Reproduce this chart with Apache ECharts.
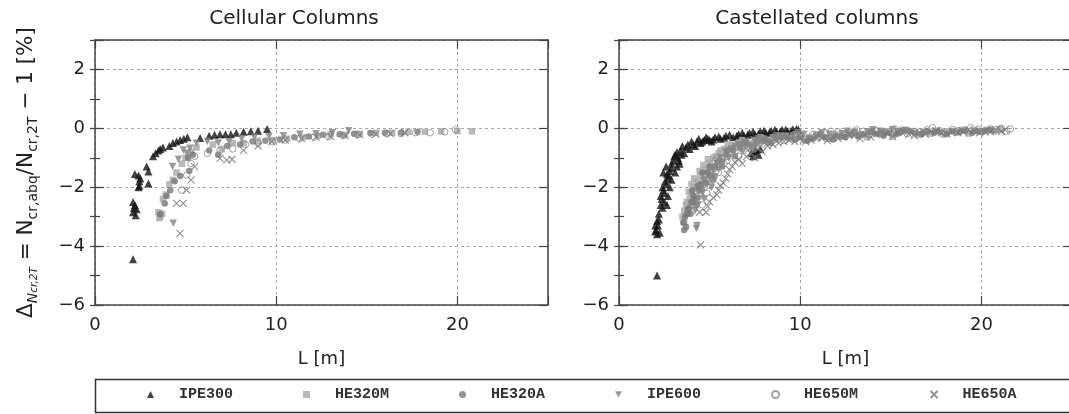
<!DOCTYPE html>
<html><head><meta charset="utf-8">
<script src="https://cdn.jsdelivr.net/npm/echarts@6/dist/echarts.min.js"></script>
<style>html,body{margin:0;padding:0;background:#fff}#c{width:1069px;height:414px}</style>
</head><body><div id="c"></div>
<script>
// ---------- DATA ----------
const seriesNames = ['IPE300', 'HE320M', 'HE320A', 'IPE600', 'HE650M', 'HE650A'];
const panelTitles = ['Cellular Columns', 'Castellated columns'];
const xAxisName = 'L [m]';
const xTicks = [0, 10, 20];
const yTicks = [-6, -4, -2, 0, 2];

// Cellular columns  [L (m), deviation (%)]
const cellIPE300 = [[2.1,-4.45],[2.1,-2.5],[2.15,-2.7],[2.1,-2.85],[2.2,-2.6],[2.25,-2.95],[2.3,-2.75],[2.4,-1.6],[2.45,-1.8],[2.4,-2.0],[2.5,-1.7],[2.45,-1.95],[2.2,-1.55],[2.85,-1.3],[2.95,-1.47],[2.95,-1.87],[3.2,-0.95],[3.35,-0.85],[3.5,-0.75],[3.6,-0.7],[3.75,-0.65],[4.1,-0.6],[4.3,-0.5],[4.5,-0.45],[4.7,-0.4],[4.9,-0.35],[5.1,-0.3],[5.8,-0.33],[6.3,-0.25],[6.6,-0.22],[6.9,-0.2],[7.2,-0.2],[7.5,-0.2],[7.8,-0.15],[8.2,-0.12],[8.6,-0.1],[9.0,-0.08],[9.5,-0.02]];
const cellHE320M = [[3.5,-2.85],[3.6,-3.0],[3.55,-3.05],[3.7,-2.9],[3.75,-2.4],[3.9,-2.25],[4.1,-1.9],[4.3,-1.75],[4.5,-1.5],[4.8,-1.2],[5.0,-1.0],[5.3,-0.8],[5.6,-0.65],[6.5,-0.55],[7.0,-0.7],[7.6,-0.5],[8.2,-0.5],[9.0,-0.42],[9.8,-0.4],[10.6,-0.35],[11.5,-0.3],[12.3,-0.25],[13.0,-0.2],[13.8,-0.22],[14.6,-0.18],[15.5,-0.15],[16.4,-0.15],[17.3,-0.12],[18.2,-0.12],[19.1,-0.1],[20.0,-0.1],[20.8,-0.1]];
const cellHE320A = [[3.6,-2.92],[3.85,-2.55],[3.95,-2.3],[4.15,-2.1],[4.4,-1.8],[4.7,-1.62],[5.2,-1.45],[5.15,-1.0],[5.4,-0.9],[6.3,-0.75],[6.8,-0.9],[7.3,-0.6],[8.0,-0.55],[8.7,-0.45],[9.4,-0.42],[10.2,-0.38],[11.0,-0.3],[11.8,-0.28],[12.6,-0.22],[13.5,-0.2],[14.3,-0.18],[15.2,-0.16],[16.0,-0.15],[16.9,-0.14],[17.8,-0.12]];
const cellIPE600 = [[4.32,-3.22],[4.28,-1.3],[4.6,-1.05],[4.87,-0.74],[5.06,-0.85],[5.24,-0.68],[5.6,-0.51],[6.2,-0.45],[6.8,-0.5],[7.4,-0.45],[8.1,-0.35],[8.8,-0.3],[9.6,-0.28],[10.4,-0.25],[11.3,-0.2],[12.2,-0.18],[13.1,-0.15],[14.0,-0.08]];
const cellHE650M = [[4.78,-2.1],[5.06,-1.59],[5.3,-1.2],[5.5,-0.95],[6.2,-0.85],[6.9,-0.75],[7.6,-0.7],[8.3,-0.55],[9.0,-0.5],[9.8,-0.45],[10.5,-0.4],[11.3,-0.35],[12.1,-0.3],[12.9,-0.28],[13.7,-0.25],[14.5,-0.22],[15.3,-0.2],[16.1,-0.18],[16.9,-0.18],[17.7,-0.15],[18.5,-0.15],[19.3,-0.12],[19.9,-0.05]];
const cellHE650A = [[4.69,-3.57],[4.5,-2.55],[4.87,-2.55],[5.06,-2.1],[5.3,-1.75],[5.5,-1.3],[6.9,-1.02],[7.27,-1.08],[7.56,-1.05],[8.2,-0.75],[9.0,-0.6],[9.75,-0.45],[10.5,-0.4],[11.4,-0.35],[12.2,-0.3],[13.0,-0.28],[13.8,-0.25],[14.6,-0.22],[15.5,-0.2],[16.3,-0.18],[17.1,-0.15]];

// Castellated columns  [L (m), deviation (%)]
const castIPE300 = [[2.1,-5.0],[2.0,-3.5],[2.1,-3.6],[2.15,-3.3],[2.2,-3.1],[2.05,-3.45],[2.25,-3.55],[2.0,-3.3],[2.1,-3.15],[2.2,-2.9],[2.3,-2.6],[2.4,-2.7],[2.35,-2.4],[2.3,-2.3],[2.5,-2.2],[2.4,-2.0],[2.45,-2.1],[2.6,-1.9],[2.55,-1.8],[2.7,-1.7],[2.5,-2.5],[2.65,-2.6],[2.7,-2.3],[2.8,-2.0],[2.9,-1.75],[2.45,-1.5],[2.65,-1.55],[2.6,-1.3],[2.75,-1.6],[2.8,-1.45],[2.9,-1.35],[2.9,-1.2],[3.1,-1.5],[3.2,-1.3],[3.35,-1.2],[3.0,-1.1],[3.05,-0.95],[3.1,-0.9],[3.2,-0.8],[3.25,-1.0],[3.3,-1.1],[3.4,-0.75],[3.45,-0.9],[3.5,-0.6],[3.6,-0.85],[3.7,-0.65],[3.8,-0.55],[3.9,-0.7],[4.0,-0.45],[4.1,-0.55],[4.2,-0.6],[4.3,-0.45],[4.4,-0.35],[4.5,-0.5],[4.6,-0.45],[4.7,-0.4],[4.8,-0.3],[4.9,-0.35],[5.0,-0.4],[5.1,-0.45],[5.2,-0.38],[5.3,-0.3],[5.5,-0.28],[5.6,-0.35],[5.8,-0.32],[5.9,-0.25],[6.1,-0.22],[6.3,-0.3],[6.5,-0.25],[6.6,-0.2],[6.8,-0.15],[6.9,-0.25],[7.1,-0.22],[7.2,-0.15],[7.4,-0.12],[7.5,-0.2],[7.7,-0.18],[7.8,-0.1],[8.0,-0.08],[8.1,-0.15],[8.3,-0.14],[8.4,-0.08],[8.6,-0.05],[8.7,-0.12],[8.9,-0.1],[9.0,-0.05],[9.2,-0.04],[9.3,-0.1],[9.5,-0.08],[9.6,-0.03],[9.8,-0.02],[9.9,-0.05],[7.3,-0.85],[7.6,-0.8],[7.8,-0.7],[7.4,-0.95],[7.7,-0.9],[7.5,-0.75]];
const castHE320M = [[3.5,-3.0],[3.6,-2.8],[3.6,-3.2],[3.7,-2.6],[3.75,-2.5],[3.8,-2.9],[3.85,-2.15],[3.9,-2.4],[4.0,-2.2],[4.0,-1.9],[4.1,-2.5],[4.15,-1.7],[4.2,-2.0],[4.3,-2.3],[4.35,-1.8],[4.45,-1.45],[4.5,-1.6],[4.6,-1.9],[4.65,-1.25],[4.8,-1.4],[4.9,-1.05],[5.0,-1.2],[5.1,-1.35],[5.2,-1.0],[5.35,-0.95],[5.5,-0.85],[5.6,-0.75],[5.8,-0.7],[6.0,-0.55],[6.2,-0.6],[6.4,-0.65],[6.6,-0.5],[6.8,-0.4],[7.0,-0.45],[7.3,-0.5],[7.5,-0.4],[7.8,-0.3],[8.0,-0.35],[8.3,-0.4],[8.6,-0.3],[8.9,-0.25],[9.2,-0.25],[9.5,-0.35],[9.8,-0.2],[10.2,-0.4],[10.5,-0.3],[10.9,-0.2],[11.2,-0.25],[11.6,-0.35],[11.9,-0.2],[12.3,-0.28],[12.6,-0.15],[13.0,-0.1],[13.3,-0.2],[13.7,-0.3],[14.0,-0.12],[14.4,-0.2],[14.7,-0.1],[15.1,-0.28],[15.4,-0.15],[15.8,-0.05],[16.1,-0.1],[16.5,-0.22],[16.8,-0.12],[17.2,-0.18],[17.5,-0.08],[17.9,-0.2],[18.2,-0.1],[18.6,-0.15],[18.9,-0.05],[19.3,-0.18],[19.6,-0.08],[20.0,-0.12],[20.3,-0.05],[20.7,-0.1],[21.0,-0.02]];
const castHE320A = [[3.55,-3.2],[3.6,-3.45],[3.65,-3.0],[3.7,-3.35],[3.75,-2.9],[3.8,-2.75],[3.9,-2.7],[3.95,-2.9],[4.0,-2.5],[4.05,-2.1],[4.1,-2.3],[4.2,-2.4],[4.25,-2.6],[4.35,-1.95],[4.4,-2.1],[4.5,-1.9],[4.55,-2.05],[4.6,-1.5],[4.7,-1.7],[4.8,-1.85],[4.9,-1.5],[5.0,-1.3],[5.1,-1.6],[5.2,-1.75],[5.3,-1.3],[5.45,-1.15],[5.6,-1.1],[5.7,-1.3],[5.9,-0.9],[6.0,-0.75],[6.3,-0.75],[6.4,-0.95],[6.7,-0.65],[6.9,-0.5],[7.1,-0.55],[7.4,-0.65],[7.6,-0.5],[7.9,-0.45],[8.1,-0.4],[8.4,-0.5],[8.7,-0.35],[9.0,-0.3],[9.3,-0.3],[9.7,-0.38],[10.0,-0.3],[10.4,-0.42],[10.7,-0.35],[11.1,-0.2],[11.4,-0.3],[11.8,-0.38],[12.1,-0.25],[12.5,-0.3],[12.8,-0.22],[13.2,-0.28],[13.5,-0.2],[13.9,-0.12],[14.2,-0.18],[14.6,-0.25],[14.9,-0.15],[15.3,-0.2],[15.6,-0.12],[16.0,-0.08],[16.3,-0.15],[16.7,-0.2],[17.0,-0.1],[17.4,-0.15],[17.7,-0.12],[18.1,-0.18],[18.4,-0.1],[18.8,-0.12],[19.1,-0.08],[19.5,-0.15],[19.8,-0.1],[20.2,-0.08],[20.5,-0.05]];
const castIPE600 = [[4.27,-3.4],[4.3,-3.3],[4.2,-2.8],[4.35,-2.6],[4.4,-2.4],[4.5,-2.0],[4.6,-2.2],[4.7,-2.4],[4.8,-1.9],[4.9,-1.6],[5.0,-1.7],[5.1,-2.0],[5.2,-1.45],[5.3,-1.65],[5.4,-1.2],[5.5,-1.4],[5.6,-1.0],[5.75,-1.15],[5.9,-0.8],[6.05,-1.0],[6.2,-0.7],[6.4,-0.6],[6.6,-0.55],[6.8,-0.8],[7.0,-0.5],[7.25,-0.6],[7.5,-0.42],[7.7,-0.35],[8.0,-0.4],[8.2,-0.5],[8.5,-0.32],[8.7,-0.25],[9.0,-0.3],[9.3,-0.35],[9.6,-0.25],[9.9,-0.15],[10.2,-0.2],[10.5,-0.35],[10.9,-0.28],[11.2,-0.15],[11.6,-0.2],[11.9,-0.3],[12.3,-0.18],[12.6,-0.1],[13.0,-0.15],[13.3,-0.25],[13.7,-0.12],[14.0,-0.05],[14.4,-0.1],[14.7,-0.2],[15.1,-0.05],[15.4,-0.12],[15.8,-0.08]];
const castHE650M = [[4.5,-2.3],[4.6,-2.6],[4.7,-2.0],[4.85,-2.2],[4.9,-1.8],[5.05,-1.95],[5.1,-1.4],[5.25,-1.65],[5.3,-1.1],[5.45,-1.3],[5.5,-1.5],[5.65,-1.05],[5.8,-1.2],[5.95,-1.1],[6.0,-0.95],[6.2,-0.85],[6.4,-0.8],[6.6,-0.95],[6.8,-0.7],[7.0,-0.55],[7.2,-0.6],[7.4,-0.7],[7.7,-0.5],[7.9,-0.55],[8.2,-0.45],[8.5,-0.3],[8.8,-0.38],[9.1,-0.42],[9.4,-0.3],[9.7,-0.2],[10.0,-0.25],[10.3,-0.38],[10.7,-0.2],[11.0,-0.3],[11.4,-0.15],[11.7,-0.1],[12.1,-0.12],[12.4,-0.25],[12.8,-0.18],[13.1,-0.05],[13.5,-0.1],[13.8,-0.2],[14.2,-0.08],[14.5,-0.15],[14.9,-0.12],[15.2,-0.02],[15.6,-0.06],[15.9,-0.18],[16.3,-0.1],[16.6,-0.12],[17.0,-0.05],[17.3,0.02],[17.7,-0.08],[18.0,-0.15],[18.4,-0.04],[18.7,-0.08],[19.1,-0.06],[19.4,0.02],[19.8,-0.03],[20.1,-0.1],[20.5,-0.02],[20.8,-0.05],[21.1,0.0],[21.4,-0.1],[21.6,-0.02]];
const castHE650A = [[4.5,-3.96],[4.45,-2.85],[4.8,-2.85],[4.9,-2.65],[5.0,-2.5],[5.2,-2.35],[5.4,-2.25],[5.5,-2.1],[5.6,-1.95],[5.75,-1.85],[5.9,-1.7],[6.0,-1.55],[6.1,-1.4],[6.25,-1.3],[6.4,-1.15],[6.6,-1.05],[6.8,-1.2],[7.03,-0.96],[7.1,-0.75],[7.3,-0.85],[7.5,-1.0],[7.7,-0.7],[7.9,-0.8],[8.2,-0.6],[8.5,-0.55],[8.8,-0.5],[9.1,-0.45],[9.4,-0.4],[9.7,-0.45],[10.0,-0.35],[10.3,-0.45],[10.6,-0.4],[10.9,-0.3],[11.2,-0.35],[11.5,-0.42],[11.8,-0.3],[12.1,-0.35],[12.4,-0.28],[12.7,-0.2],[13.0,-0.25],[13.3,-0.35],[13.6,-0.22],[13.9,-0.3],[14.2,-0.2],[14.5,-0.12],[14.8,-0.18],[15.1,-0.28],[15.4,-0.15],[15.7,-0.1],[16.0,-0.2],[16.3,-0.25],[16.6,-0.15],[16.9,-0.2],[17.2,-0.12],[17.5,-0.08],[17.8,-0.15],[18.1,-0.2],[18.4,-0.1],[18.7,-0.15],[19.0,-0.12],[19.3,-0.05],[19.6,-0.08],[19.9,-0.15],[20.2,-0.1],[20.5,-0.12],[20.8,-0.06],[21.1,-0.1],[21.3,-0.05]];

const panelData = [
  [cellIPE300, cellHE320M, cellHE320A, cellIPE600, cellHE650M, cellHE650A],
  [castIPE300, castHE320M, castHE320A, castIPE600, castHE650M, castHE650A]
];

// ---------- STYLE ----------
const FONT = 'DejaVu Sans';
const TXT = '#222';
const AX = '#444';
const markerStyles = [
  { symbol: 'triangle', symbolSize: 8, itemStyle: { color: '#111' } },
  { symbol: 'rect', symbolSize: 6.5, itemStyle: { color: '#a8a8a8' } },
  { symbol: 'circle', symbolSize: 6.5, itemStyle: { color: '#777' } },
  { symbol: 'path://M0,0L10,0L5,9Z', symbolSize: 7.5, itemStyle: { color: '#828282' } },
  { symbol: 'circle', symbolSize: 6.5, itemStyle: { color: 'rgba(255,255,255,0)', borderColor: '#8a8a8a', borderWidth: 1 } },
  { symbol: 'path://M0,0L10,10M10,0L0,10', symbolSize: 7, itemStyle: { color: 'none', borderColor: '#777', borderWidth: 1.1 } }
];

const gridLefts = [95, 619];
const fmtX = v => xTicks.includes(v) ? String(v) : '';
const fmtY = v => yTicks.includes(v) ? String(v).replace('-', '\u2212') : '';
const axLine = { show: true, onZero: false, lineStyle: { color: AX, width: 1.5 } };

const grid = [], xAxis = [], yAxis = [], series = [], title = [];
const titleCenters = [294, 817];
gridLefts.forEach((L, p) => {
  grid.push({ left: L, top: 40, width: 453, height: 265, outerBoundsMode: 'none', containLabel: false });
  title.push({ text: panelTitles[p], left: titleCenters[p], top: 9, textAlign: 'center', padding: 0,
    textStyle: { fontFamily: FONT, fontSize: 20, fontWeight: 'normal', color: TXT } });
  xAxis.push({ gridIndex: p, type: 'value', min: 0, max: 25, interval: 10, position: 'bottom',
    axisLine: axLine, axisTick: { inside: true, length: 9, lineStyle: { color: AX, width: 1.2 } },
    axisLabel: { formatter: fmtX, margin: 11, fontFamily: FONT, fontSize: 18, color: TXT },
    splitLine: { show: true, lineStyle: { color: '#a8a8a8', width: 1, type: [3, 3] } },
    name: xAxisName, nameLocation: 'middle', nameGap: 45,
    nameTextStyle: { fontFamily: FONT, fontSize: 18, color: TXT } });
  xAxis.push({ gridIndex: p, type: 'value', min: 0, max: 25, interval: 10, position: 'top',
    axisLine: axLine, axisTick: { inside: true, length: 9, lineStyle: { color: AX, width: 1.2 } },
    axisLabel: { show: false }, splitLine: { show: false } });
  const yMain = { gridIndex: p, type: 'value', min: -6, max: 3, interval: 2, position: 'left',
    axisLine: axLine, axisTick: { inside: true, length: 9, lineStyle: { color: AX, width: 1.2 } },
    axisLabel: { formatter: fmtY, margin: 10, fontFamily: FONT, fontSize: 18, color: TXT },
    splitLine: { show: true, lineStyle: { color: '#a8a8a8', width: 1, type: [3, 3] } } };
  if (p === 0) {
    Object.assign(yMain, {
      name: '{d|\u0394}{s|N}{ss|cr,2T}{m| = N}{b|cr,abq}{m|/N}{b|cr,2T}{m| \u2212 1 [%]}',
      nameLocation: 'middle', nameRotate: 90, nameGap: 55,
      nameTextStyle: { rich: {
        d: { fontFamily: FONT, fontSize: 21.5, lineHeight: 27, color: TXT },
        m: { fontFamily: FONT, fontSize: 21.5, lineHeight: 27, color: TXT },
        s: { fontFamily: FONT, fontSize: 14, fontStyle: 'italic', lineHeight: 17, verticalAlign: 'bottom', color: TXT },
        ss: { fontFamily: FONT, fontSize: 10.5, fontStyle: 'italic', lineHeight: 8, verticalAlign: 'bottom', color: TXT },
        b: { fontFamily: FONT, fontSize: 14, lineHeight: 14, verticalAlign: 'bottom', color: TXT }
      } }
    });
  }
  yAxis.push(yMain);
  yAxis.push({ gridIndex: p, type: 'value', min: -6, max: 3, interval: 2, position: 'right',
    axisLine: axLine, axisTick: { inside: true, length: 9, lineStyle: { color: AX, width: 1.2 } },
    axisLabel: { show: false }, splitLine: { show: false } });
  ['left', 'right'].forEach(pos => yAxis.push({ gridIndex: p, type: 'value', min: -6, max: 3, interval: 1, position: pos,
    axisLine: { show: false }, axisTick: { inside: true, length: 5, lineStyle: { color: AX, width: 1.2 } },
    axisLabel: { show: false }, splitLine: { show: false } }));
  seriesNames.forEach((name, k) => {
    series.push(Object.assign({ type: 'scatter', name, xAxisIndex: p * 2, yAxisIndex: p * 4,
      data: panelData[p][k], clip: true, emphasis: { disabled: true } }, JSON.parse(JSON.stringify(markerStyles[k]))));
  });
});

const chart = echarts.init(document.getElementById('c'), null, { renderer: 'canvas' });
chart.setOption({
  animation: false,
  backgroundColor: '#fff',
  title, grid, xAxis, yAxis, series,
  legend: { data: seriesNames, orient: 'horizontal', left: 147, top: 387, padding: 0,
    itemWidth: 7, itemHeight: 7, itemGap: 70,
    textStyle: { fontFamily: 'Liberation Mono', fontSize: 15, fontWeight: 'bold', color: '#333', padding: [0, 0, 0, 20] } },
  graphic: [{ type: 'rect', silent: true, shape: { x: 95.5, y: 379.5, width: 1000, height: 33 },
    style: { fill: 'none', stroke: '#333', lineWidth: 1.5 } }]
});
</script></body></html>
